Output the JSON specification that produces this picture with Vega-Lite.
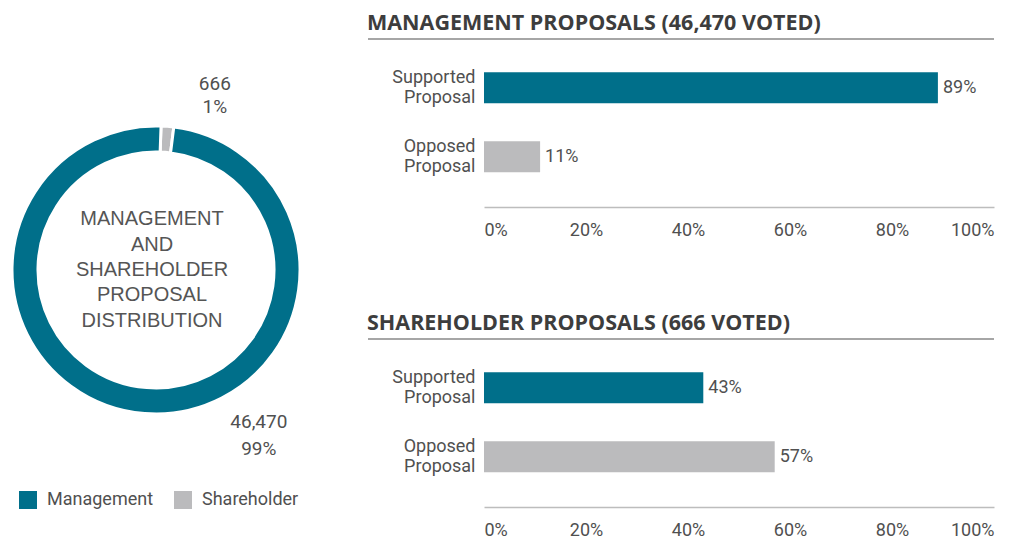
{
  "$schema": "https://vega.github.io/schema/vega-lite/v6.json",
  "background": "white",
  "padding": {"left": 0, "top": 12, "right": 0, "bottom": 0},
  "spacing": 55,
  "config": {"view": {"stroke": null}, "font": "Roboto"},
  "resolve": {"scale": {"color": "independent"}, "legend": {"color": "independent"}},
  "hconcat": [
    {
      "width": 312,
      "height": 462,
      "data": {"values": [
        {"type": "Shareholder", "count": 666, "label": "666\n1%"},
        {"type": "Management", "count": 46470, "label": "46,470\n99%"}
      ]},
      "layer": [
        {
          "mark": {"type": "arc", "innerRadius": 118, "outerRadius": 144, "stroke": "#ffffff", "strokeWidth": 3},
          "encoding": {
            "theta": {"field": "count", "type": "quantitative", "stack": true, "scale": {"range": [0.035, 6.3182]}},
            "order": {"field": "count", "type": "quantitative", "sort": "ascending"},
            "color": {
              "field": "type", "type": "nominal",
              "scale": {"domain": ["Management", "Shareholder"], "range": ["#006F8A", "#BBBBBD"]},
              "legend": {"orient": "none", "legendX": 19, "legendY": 452, "direction": "horizontal", "title": null,
                "symbolType": "square", "symbolSize": 324, "symbolStrokeWidth": 0, "symbolOpacity": 1,
                "labelFontSize": 18, "labelFont": "Roboto", "labelColor": "#505050",
                "labelOffset": 10, "columnPadding": 20}
            }
          }
        },
        {
          "mark": {"type": "text", "radius": 175, "dx": 45, "dy": -11.5, "lineBreak": "\n", "lineHeight": 23, "fontSize": 19,
            "font": "Roboto", "color": "#505050", "align": "center", "baseline": "middle"},
          "encoding": {
            "theta": {"field": "count", "type": "quantitative", "stack": true},
            "order": {"field": "count", "type": "quantitative", "sort": "ascending"},
            "text": {"condition": {"test": "datum.type === 'Shareholder'", "field": "label"}, "value": ""}
          }
        },
        {
          "mark": {"type": "text", "radius": 166, "dx": 116, "dy": -13.5, "lineBreak": "\n", "lineHeight": 27, "fontSize": 19,
            "font": "Roboto", "color": "#505050", "align": "center", "baseline": "middle"},
          "encoding": {
            "theta": {"field": "count", "type": "quantitative", "stack": true},
            "order": {"field": "count", "type": "quantitative", "sort": "ascending"},
            "text": {"condition": {"test": "datum.type === 'Management'", "field": "label"}, "value": ""}
          }
        },
        {
          "data": {"values": [{"title": "MANAGEMENT\nAND\nSHAREHOLDER\nPROPOSAL\nDISTRIBUTION"}]},
          "mark": {"type": "text", "lineBreak": "\n", "lineHeight": 25.3, "fontSize": 20, "font": "Liberation Sans",
            "color": "#555555", "align": "center", "baseline": "middle", "dx": -4, "dy": -50.6},
          "encoding": {"text": {"field": "title"}}
        }
      ]
    },
    {
      "spacing": 73,
      "vconcat": [
        {
          "spacing": 0,
          "vconcat": [
            {
              "width": 510, "height": 1,
              "data": {"values": [{"h": 1}]},
              "title": {"text": "MANAGEMENT PROPOSALS (46,470 VOTED)", "anchor": "start", "frame": "bounds",
                "font": "Open Sans", "fontSize": 21.5, "fontWeight": 700, "color": "#3D3D3D", "offset": 4},
              "mark": {"type": "rule", "color": "#A6A6A6", "strokeWidth": 2},
              "encoding": {
                "x": {"datum": 0, "type": "quantitative", "scale": {"domain": [0, 1], "range": [-116, 510]}, "axis": null},
                "x2": {"datum": 1},
                "y": {"datum": 1, "type": "quantitative", "scale": {"domain": [0, 1]}, "axis": null}
              }
            },
            {
              "width": 510, "height": 167,
              "data": {"values": [
                {"vote": "Supported Proposal", "share": 0.89},
                {"vote": "Opposed Proposal", "share": 0.11}
              ]},
              "encoding": {
                "y": {"field": "vote", "type": "nominal", "sort": null,
                  "scale": {"paddingInner": 0.55, "paddingOuter": 0.485, "align": 0.48},
                  "axis": {"title": null, "ticks": false, "domain": false, "labelExpr": "split(datum.label, ' ')",
                    "labelPadding": 9, "minExtent": 116, "maxExtent": 116, "labelFontSize": 18, "labelLineHeight": 20,
                    "labelOffset": -10, "labelColor": "#505050", "labelFont": "Roboto", "labelBaseline": "middle"}},
                "x": {"field": "share", "type": "quantitative", "scale": {"domain": [0, 1], "nice": false},
                  "axis": {"title": null, "values": [0, 0.2, 0.4, 0.6, 0.8, 1], "format": ".0%", "labelFlush": true,
                    "ticks": false, "grid": false, "domainColor": "#BDBDBD", "domainWidth": 1.5, "labelPadding": 14,
                    "labelFontSize": 18, "labelColor": "#505050", "labelFont": "Roboto"}}
              },
              "layer": [
                {"mark": {"type": "bar"},
                  "encoding": {"color": {"field": "vote", "type": "nominal",
                    "scale": {"domain": ["Supported Proposal", "Opposed Proposal"], "range": ["#006F8A", "#BBBBBD"]},
                    "legend": null}}},
                {"mark": {"type": "text", "align": "left", "baseline": "middle", "dx": 5, "fontSize": 18,
                  "font": "Roboto", "color": "#505050"},
                  "encoding": {"text": {"field": "share", "type": "quantitative", "format": ".0%"}}}
              ]
            }
          ]
        },
        {
          "spacing": 0,
          "vconcat": [
            {
              "width": 510, "height": 1,
              "data": {"values": [{"h": 1}]},
              "title": {"text": "SHAREHOLDER PROPOSALS (666 VOTED)", "anchor": "start", "frame": "bounds",
                "font": "Open Sans", "fontSize": 21.5, "fontWeight": 700, "color": "#3D3D3D", "offset": 4},
              "mark": {"type": "rule", "color": "#A6A6A6", "strokeWidth": 2},
              "encoding": {
                "x": {"datum": 0, "type": "quantitative", "scale": {"domain": [0, 1], "range": [-116, 510]}, "axis": null},
                "x2": {"datum": 1},
                "y": {"datum": 1, "type": "quantitative", "scale": {"domain": [0, 1]}, "axis": null}
              }
            },
            {
              "width": 510, "height": 167,
              "data": {"values": [
                {"vote": "Supported Proposal", "share": 0.43},
                {"vote": "Opposed Proposal", "share": 0.57}
              ]},
              "encoding": {
                "y": {"field": "vote", "type": "nominal", "sort": null,
                  "scale": {"paddingInner": 0.55, "paddingOuter": 0.485, "align": 0.48},
                  "axis": {"title": null, "ticks": false, "domain": false, "labelExpr": "split(datum.label, ' ')",
                    "labelPadding": 9, "minExtent": 116, "maxExtent": 116, "labelFontSize": 18, "labelLineHeight": 20,
                    "labelOffset": -10, "labelColor": "#505050", "labelFont": "Roboto", "labelBaseline": "middle"}},
                "x": {"field": "share", "type": "quantitative", "scale": {"domain": [0, 1], "nice": false},
                  "axis": {"title": null, "values": [0, 0.2, 0.4, 0.6, 0.8, 1], "format": ".0%", "labelFlush": true,
                    "ticks": false, "grid": false, "domainColor": "#BDBDBD", "domainWidth": 1.5, "labelPadding": 14,
                    "labelFontSize": 18, "labelColor": "#505050", "labelFont": "Roboto"}}
              },
              "layer": [
                {"mark": {"type": "bar"},
                  "encoding": {"color": {"field": "vote", "type": "nominal",
                    "scale": {"domain": ["Supported Proposal", "Opposed Proposal"], "range": ["#006F8A", "#BBBBBD"]},
                    "legend": null}}},
                {"mark": {"type": "text", "align": "left", "baseline": "middle", "dx": 5, "fontSize": 18,
                  "font": "Roboto", "color": "#505050"},
                  "encoding": {"text": {"field": "share", "type": "quantitative", "format": ".0%"}}}
              ]
            }
          ]
        }
      ]
    }
  ]
}
